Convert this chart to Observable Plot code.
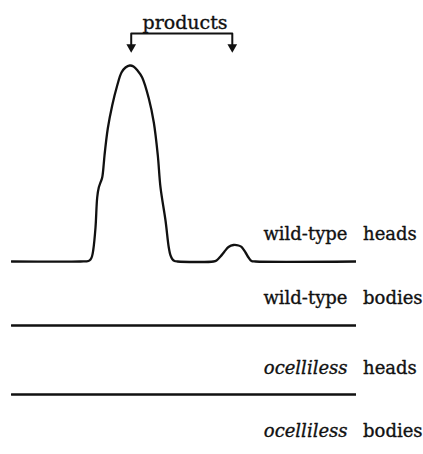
<!DOCTYPE html>
<html>
<head>
<meta charset="utf-8">
<script src="https://cdn.jsdelivr.net/npm/d3@7"></script>
<script src="https://cdn.jsdelivr.net/npm/@observablehq/plot@0.6"></script>
<style>
html, body { margin: 0; padding: 0; background: #fff; }
#chart svg { display: block; background: #fff; }
</style>
</head>
<body>
<div id="chart"></div>
<script>
// Wild-type heads trace: relative mobility (0–100) and absorbance (peak = 100)
const mobility = [0, 20.0, 22.32, 22.90, 23.33, 23.68, 24.35, 24.84, 25.30, 25.80, 26.29, 26.75, 26.96,
  27.91, 29.19, 30.64, 31.88, 33.04, 34.29, 35.36, 36.52, 37.88, 39.80, 41.25, 42.41, 43.19, 44.64,
  45.59, 46.09, 46.58, 47.25, 48.12, 58.55, 59.42, 60.58, 61.74, 62.90, 64.35, 65.80, 66.67, 67.83,
  68.70, 69.57, 70.72, 100];
const absorbance = [0, 0, 0.26, 1.02, 2.55, 5.61, 17.35, 32.65, 37.76, 40.31, 42.86, 50.0, 54.08,
  67.86, 79.59, 89.80, 96.43, 98.98, 100, 99.49, 97.45, 93.88, 83.16, 70.92, 54.08, 37.76, 20.92,
  7.14, 3.06, 1.28, 0.26, 0, 0, 0.51, 2.55, 5.10, 7.40, 8.42, 8.16, 7.40, 4.59, 2.04, 0.26, 0, 0];

// Flat traces (no products detected)
const flatMobility = [0, 100];
const flatAbsorbance = [0, 0];

// Trace labels and vertical stacking offsets
const traceStrains = ["wild-type", "wild-type", "ocelliless", "ocelliless"];
const traceTissues = ["heads", "bodies", "heads", "bodies"];
const traceOffsets = [0, -32.65, -67.86, -100.4];

// Product peaks annotation
const productMobility = [34.7, 64.0];
const productLabel = "products";

// ---- build tables ----
const traces = [];
traceOffsets.forEach((off, t) => {
  const xs = t === 0 ? mobility : flatMobility;
  const ys = t === 0 ? absorbance : flatAbsorbance;
  xs.forEach((x, i) => traces.push({trace: t, x, y: ys[i] + off}));
});
const labels = traceOffsets.map((off, t) => ({strain: traceStrains[t], tissue: traceTissues[t], y: off}));

const bracketY = 116.33, stemEndY = 110.4;
const bracket = [
  {x: productMobility[0], y: stemEndY},
  {x: productMobility[0], y: bracketY},
  {x: productMobility[1], y: bracketY},
  {x: productMobility[1], y: stemEndY}
];
const tips = productMobility.map(x => ({x, y: stemEndY}));
const labelX = d3.mean(productMobility) + 0.95;

const font = "DejaVu Serif";
const ink = "#111";
const textStyle = {fontSize: 18, fontFamily: font, fill: ink, stroke: ink, strokeWidth: 0.35, lineAnchor: "bottom"};

const chart = Plot.plot({
  width: 423,
  height: 454,
  marginLeft: 11,
  marginRight: 67,
  marginTop: 0,
  marginBottom: 0,
  style: {background: "#fff", fontFamily: font, overflow: "hidden"},
  x: {domain: [0, 100], axis: null},
  y: {domain: [-98.47, 133.16], axis: null},
  marks: [
    Plot.line(traces, {x: "x", y: "y", z: "trace", curve: "catmull-rom", stroke: ink, strokeWidth: 2.3, clip: true}),
    Plot.text(labels.filter(d => d.strain === "wild-type"), {x: () => 97.4, y: "y", dy: -21, text: "strain",
      textAnchor: "end", ...textStyle}),
    Plot.text(labels.filter(d => d.strain === "ocelliless"), {x: () => 97.4, y: "y", dy: -21, text: "strain",
      textAnchor: "end", fontStyle: "italic", ...textStyle}),
    Plot.text(labels, {x: () => 101.9, y: "y", dy: -21, text: "tissue",
      textAnchor: "start", ...textStyle}),
    Plot.line(bracket, {x: "x", y: "y", stroke: ink, strokeWidth: 2}),
    Plot.dot(tips, {x: "x", y: "y", symbol: "triangle", rotate: 180, r: 3.6, fill: ink, stroke: "none", dy: 2}),
    Plot.text([productLabel], {x: () => labelX, y: () => 118.6, text: d => d, textAnchor: "middle",
      ...textStyle, fontSize: 19})
  ]
});
document.getElementById("chart").append(chart);
</script>
</body>
</html>
